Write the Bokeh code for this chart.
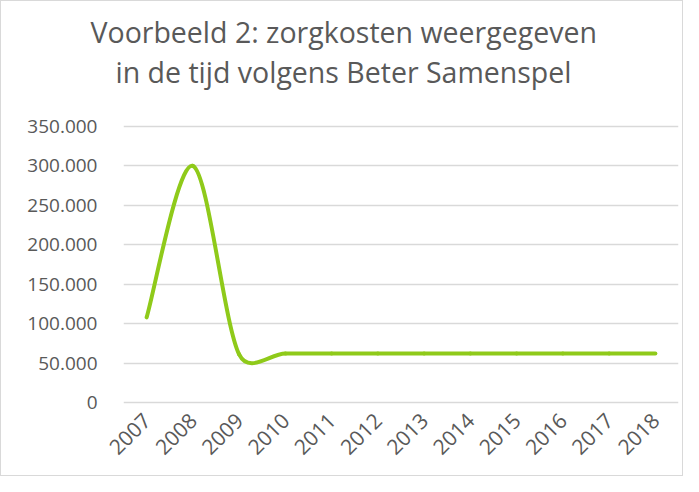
import math
from bokeh.plotting import figure
from bokeh.models import Range1d, FixedTicker, Title
from bokeh.embed import file_html
from bokeh.resources import INLINE

# ---- data ----
YEARS = [2007, 2008, 2009, 2010, 2011, 2012, 2013, 2014, 2015, 2016, 2017, 2018]
COSTS = [108000, 300000, 61000, 62000, 62000, 62000, 62000, 62000, 62000, 62000, 62000, 62000]
Y_TICKS = [0, 50000, 100000, 150000, 200000, 250000, 300000, 350000]
Y_TICK_LABELS = ["0", "50.000", "100.000", "150.000", "200.000", "250.000", "300.000", "350.000"]
TITLE_LINES = ["Voorbeeld 2: zorgkosten weergegeven", "in de tijd volgens Beter Samenspel"]

# ---- layout ----
W, H = 683, 476
ML, MR, MT, MB = 122, 6, 123, 73
PADPX = 2
Y0, Y1 = 0, 350000
frame_h = H - MT - MB
sy = (frame_h - 2 * PADPX) / (Y1 - Y0)
pad = PADPX / sy
X0, X1 = YEARS[0] - 0.5, YEARS[-1] + 0.5
sx = (W - ML - MR) / (X1 - X0)

FONT = "Open Sans"
GREY = "#595959"
GREEN = "#8fca1a"

p = figure(width=W, height=H, output_backend="svg", toolbar_location=None,
           x_range=Range1d(X0, X1), y_range=Range1d(Y0 - pad, Y1 + pad),
           min_border_left=ML, min_border_right=MR, min_border_top=MT, min_border_bottom=MB)
p.outline_line_color = None
p.background_fill_color = "white"
p.border_fill_color = "white"
p.title = None

# title: spacer nearest the frame, then line 2, then line 1 (stacked upwards)
p.add_layout(Title(text=" ", text_font_size="1px", standoff=31), "above")
for line, off in [(TITLE_LINES[1], -8), (TITLE_LINES[0], -33)]:
    p.add_layout(Title(text=line, align="left", offset=off, standoff=0,
                       text_font=FONT, text_font_size="28.5px", text_font_style="normal",
                       text_color=GREY), "above")

# y axis
p.yaxis.ticker = FixedTicker(ticks=Y_TICKS)
p.yaxis.major_label_overrides = {t: l for t, l in zip(Y_TICKS, Y_TICK_LABELS)}
p.yaxis.axis_line_color = None
p.yaxis.major_tick_line_color = None
p.yaxis.minor_tick_line_color = None
p.yaxis.major_label_standoff = 20
p.yaxis.major_label_text_font = FONT
p.yaxis.major_label_text_font_size = "19px"
p.yaxis.major_label_text_color = GREY

# x axis
p.xaxis.ticker = FixedTicker(ticks=YEARS)
p.xaxis.major_label_overrides = {y: str(y) for y in YEARS}
p.xaxis.major_label_orientation = math.pi / 4
p.xaxis.axis_line_color = None
p.xaxis.major_tick_line_color = None
p.xaxis.minor_tick_line_color = None
p.xaxis.major_label_standoff = 6
p.xaxis.major_label_text_font = FONT
p.xaxis.major_label_text_font_size = "21px"
p.xaxis.major_label_text_color = GREY

p.xgrid.grid_line_color = None
p.ygrid.grid_line_color = "#d9d9d9"
p.ygrid.grid_line_width = 1.5

# ---- smoothed line (Bezier segments, Excel-like smoothing) ----
pts = [(x * sx, y * sy) for x, y in zip(YEARS, COSTS)]
n = len(pts)
F = 1.0 / 6.0

def dist(a, b):
    return math.hypot(a[0] - b[0], a[1] - b[1])

cp_after, cp_before = [], []
for i in range(n):
    prev = pts[i - 1] if i > 0 else pts[i]
    nxt = pts[i + 1] if i < n - 1 else pts[i]
    tx, ty = nxt[0] - prev[0], nxt[1] - prev[1]
    dp, dn = dist(pts[i], prev), dist(nxt, pts[i])
    sa = min(1.0, (dn / dp) ** 0.3) if dp > 0 and dn > 0 else 1.0
    sb = min(1.0, (dp / dn) ** 0.3) if dp > 0 and dn > 0 else 1.0
    cp_after.append((pts[i][0] + tx * F * sa, pts[i][1] + ty * F * sa))
    cp_before.append((pts[i][0] - tx * F * sb, pts[i][1] - ty * F * sb))

bx0 = [YEARS[i] for i in range(n - 1)]
by0 = [COSTS[i] for i in range(n - 1)]
bx1 = [YEARS[i + 1] for i in range(n - 1)]
by1 = [COSTS[i + 1] for i in range(n - 1)]
cx0 = [cp_after[i][0] / sx for i in range(n - 1)]
cy0 = [cp_after[i][1] / sy for i in range(n - 1)]
cx1 = [cp_before[i + 1][0] / sx for i in range(n - 1)]
cy1 = [cp_before[i + 1][1] / sy for i in range(n - 1)]

p.bezier(x0=bx0, y0=by0, x1=bx1, y1=by1, cx0=cx0, cy0=cy0, cx1=cx1, cy1=cy1,
         line_color=GREEN, line_width=4, line_cap="round")

p.styles = {"border": "1px solid #d9d9d9"}

open("out.html", "w").write(file_html(p, INLINE))
